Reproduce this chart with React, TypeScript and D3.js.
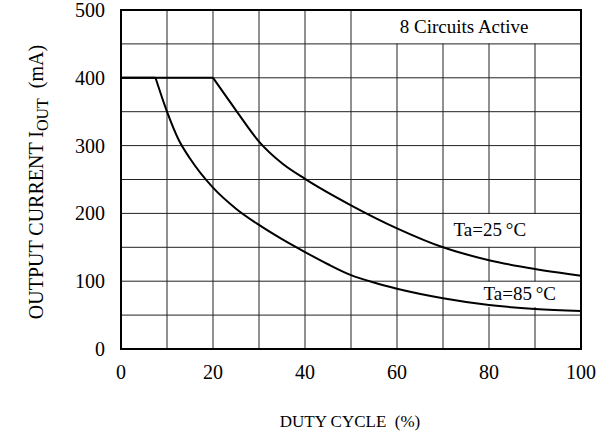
import React, { useRef, useEffect } from 'react';
import * as d3 from 'd3';

// duty cycle (%) vs output current (mA)
const dutyTa25 = [0, 20, 25, 30, 35, 40, 50, 60, 70, 80, 90, 100];
const currentTa25 = [400, 400, 352, 306, 274, 251, 212, 178, 150, 131, 118, 108];

const dutyTa85 = [0, 7.5, 10, 12.5, 15, 20, 25, 30, 35, 40, 45, 50, 55, 60, 70, 80, 90, 100];
const currentTa85 = [400, 400, 350, 309, 281, 238, 207, 183, 162, 143, 125, 109, 98, 89, 75, 65, 59, 56];

// index where the flat 400 mA limit ends
const kinkTa25 = 1;
const kinkTa85 = 1;

const xTicks = [0, 20, 40, 60, 80, 100];
const yTicks = [0, 100, 200, 300, 400, 500];
const xGrid = [10, 20, 30, 40, 50, 60, 70, 80, 90];
const yGrid = [50, 100, 150, 200, 250, 300, 350, 400, 450];

function App() {
  const svgRef = useRef();

  useEffect(() => {
    const width = 612;
    const height = 434;
    const margin = { top: 10, right: 31, bottom: 85, left: 121 };
    const innerWidth = width - margin.left - margin.right;
    const innerHeight = height - margin.top - margin.bottom;
    const font = 'Liberation Serif, Times New Roman, Times, DejaVu Serif, serif';

    const svg = d3.select(svgRef.current);
    svg.selectAll('*').remove();

    const x = d3.scaleLinear().domain([0, 100]).range([0, innerWidth]);
    const y = d3.scaleLinear().domain([0, 500]).range([innerHeight, 0]);

    const g = svg.append('g')
      .attr('transform', `translate(${margin.left},${margin.top})`)
      .attr('font-family', font);

    // vertical grid
    g.append('g')
      .selectAll('line')
      .data(xGrid)
      .join('line')
        .attr('x1', d => x(d)).attr('x2', d => x(d))
        .attr('y1', 0).attr('y2', innerHeight)
        .attr('stroke', '#222')
        .attr('stroke-width', 1);

    // white areas behind the labels (hide grid lines there)
    const boxes = [
      { x0: 50.4, x1: 100, y0: 450.5, y1: 500 },
      { x0: 70.4, x1: 100, y0: 150.5, y1: 199.5 },
      { x0: 77.5, x1: 100, y0: 62, y1: 99.5 },
    ];
    g.append('g')
      .selectAll('rect')
      .data(boxes)
      .join('rect')
        .attr('x', d => x(d.x0))
        .attr('y', d => y(d.y1))
        .attr('width', d => x(d.x1) - x(d.x0))
        .attr('height', d => y(d.y0) - y(d.y1))
        .attr('fill', '#fff');

    // horizontal grid
    g.append('g')
      .selectAll('line')
      .data(yGrid)
      .join('line')
        .attr('x1', 0).attr('x2', innerWidth)
        .attr('y1', d => y(d)).attr('y2', d => y(d))
        .attr('stroke', '#222')
        .attr('stroke-width', 1);

    const series = [
      { xs: dutyTa25, ys: currentTa25, kink: kinkTa25 },
      { xs: dutyTa85, ys: currentTa85, kink: kinkTa85 },
    ];

    const flat = d3.line().x(d => x(d[0])).y(d => y(d[1]));
    const decay = d3.line().x(d => x(d[0])).y(d => y(d[1])).curve(d3.curveMonotoneX);

    series.forEach(s => {
      const pts = s.xs.map((v, i) => [v, s.ys[i]]);
      g.append('path')
        .attr('d', flat(pts.slice(0, s.kink + 1)))
        .attr('fill', 'none')
        .attr('stroke', '#000')
        .attr('stroke-width', 2);
      g.append('path')
        .attr('d', decay(pts.slice(s.kink)))
        .attr('fill', 'none')
        .attr('stroke', '#000')
        .attr('stroke-width', 2);
    });

    // frame
    g.append('rect')
      .attr('x', 0).attr('y', 0)
      .attr('width', innerWidth).attr('height', innerHeight)
      .attr('fill', 'none')
      .attr('stroke', '#000')
      .attr('stroke-width', 2);

    const tickFs = 20;
    const labelFs = 19;

    // tick labels
    g.append('g')
      .selectAll('text')
      .data(xTicks)
      .join('text')
        .attr('x', d => x(d))
        .attr('y', innerHeight + 30)
        .attr('text-anchor', 'middle')
        .attr('font-size', tickFs)
        .text(d => d);

    g.append('g')
      .selectAll('text')
      .data(yTicks)
      .join('text')
        .attr('x', -16)
        .attr('y', d => y(d))
        .attr('dy', '0.35em')
        .attr('text-anchor', 'end')
        .attr('font-size', tickFs)
        .text(d => d);

    // in-plot labels
    g.append('text')
      .attr('x', x(74.6))
      .attr('y', y(466))
      .attr('text-anchor', 'middle')
      .attr('font-size', labelFs)
      .text('8 Circuits Active');

    g.append('text')
      .attr('x', x(72.3))
      .attr('y', y(166))
      .attr('font-size', labelFs)
      .text('Ta=25\u2009°C');

    g.append('text')
      .attr('x', x(78.8))
      .attr('y', y(72))
      .attr('font-size', labelFs)
      .text('Ta=85\u2009°C');

    // axis titles
    svg.append('text')
      .attr('x', 350)
      .attr('y', 427)
      .attr('text-anchor', 'middle')
      .attr('font-family', font)
      .attr('font-size', 17)
      .text('DUTY CYCLE\u00a0\u00a0(%)');

    const yTitle = svg.append('text')
      .attr('transform', 'translate(43,182) rotate(-90)')
      .attr('text-anchor', 'middle')
      .attr('font-family', font)
      .attr('font-size', 20);
    yTitle.append('tspan').text('OUTPUT CURRENT I');
    yTitle.append('tspan').attr('dy', 5).attr('font-size', 16).text('OUT');
    yTitle.append('tspan').attr('dy', -5).text('\u00a0\u00a0(mA)');
  }, []);

  return (
    <svg
      ref={svgRef}
      width={612}
      height={434}
      style={{ position: 'absolute', left: 0, top: 0, background: '#fff' }}
    />
  );
}

export default App;
